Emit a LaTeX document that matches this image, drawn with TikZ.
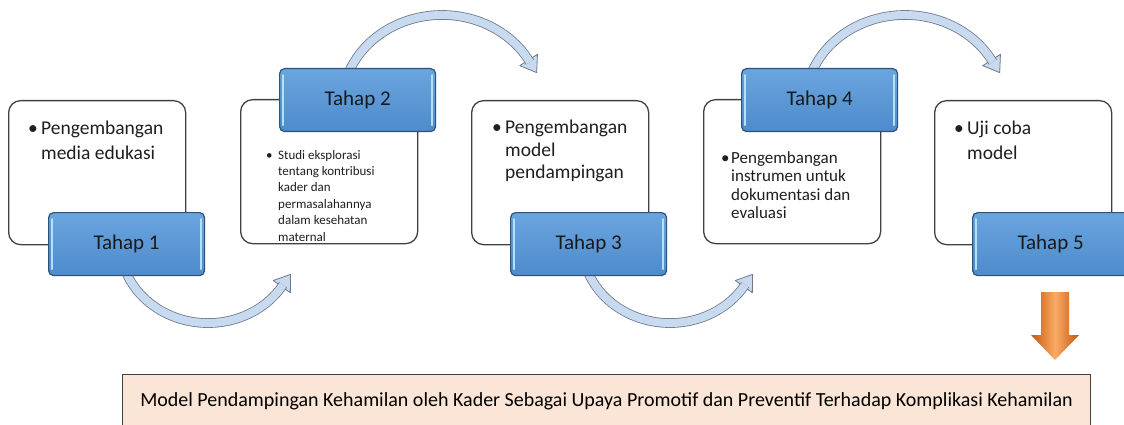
\documentclass[tikz,border=0pt]{standalone}
\usepackage{fontspec}
\setmainfont{Carlito}
\usetikzlibrary{calc}
\definecolor{garis}{RGB}{64,64,64}
\definecolor{birut}{RGB}{106,165,222}
\definecolor{birub}{RGB}{78,139,204}
\definecolor{birug}{RGB}{47,82,122}
\definecolor{kilau}{RGB}{178,226,250}
\definecolor{pitai}{RGB}{200,218,240}
\definecolor{pitag}{RGB}{110,120,135}
\definecolor{jingga}{RGB}{196,88,16}
\definecolor{jinggam}{RGB}{250,170,100}
\definecolor{krem}{RGB}{251,229,214}
\newcommand{\poin}[2]{\begin{tabular}{@{}p{#1}@{}l@{}}#2\end{tabular}}
\tikzset{
  kartu/.style={draw=garis, line width=1.3pt, rounded corners=12pt, fill=white,
    minimum width=177pt, minimum height=144pt, anchor=north west},
  tahap/.style={draw=birug, line width=1.2pt, rounded corners=5pt,
    top color=birut, bottom color=birub, minimum width=156pt, minimum height=63pt,
    anchor=north west, font=\fontsize{21}{25}\selectfont, text=black!90},
  isi/.style={anchor=north west, inner sep=0pt, text=black!88},
  kilat/.style={kilau, line width=1.6pt, line cap=round},
  pita/.style={draw=pitag, line width=0.8pt, double=pitai, double distance=8pt},
  kepala/.style={draw=pitag, line width=0.8pt, fill=pitai, line join=round},
  hasil/.style={draw=garis, line width=1pt, fill=krem, anchor=north west,
    minimum width=968pt, minimum height=54pt, font=\fontsize{20}{24}\selectfont}
}
\begin{document}
\begin{tikzpicture}[x=1pt,y=-1pt]
  \useasboundingbox (0,0) rectangle (1124,425);
  \clip (0,0) rectangle (1124,425);
  % kartu
  \node[kartu] (c1) at (8,100) {};
  \node[kartu] (c2) at (240,99) {};
  \node[kartu] (c3) at (471,100) {};
  \node[kartu] (c4) at (703,99) {};
  \node[kartu] (c5) at (934,100) {};
  % panah bawah
  \foreach \dx/\n in {0/1, 462/3} {
    \coordinate (b\n) at (\dx+125.3,270.4);
    \coordinate (e\n) at (\dx+281.8,286.6);
    \filldraw[kepala] ($(e\n)+(35.5:10.5)$) -- ($(e\n)+(-54.5:15)$) -- ($(e\n)+(-144.5:10.5)$) -- cycle;
    \draw[pita] (b\n) arc[start angle=160, end angle=31.5, x radius=88, y radius=80];
  }
  % panah atas
  \foreach \dx/\n in {0/2, 463/4} {
    \coordinate (b\n) at (\dx+348,74.2);
    \coordinate (e\n) at (\dx+528.6,60);
    \filldraw[kepala] ($(e\n)+(147.3:10.5)$) -- ($(e\n)+(57.3:15)$) -- ($(e\n)+(-32.7:10.5)$) -- cycle;
    \draw[pita] (b\n) arc[start angle=200, end angle=331.5, x radius=100, y radius=90];
  }
  % tahap
  \node[tahap] (s1) at (48,212) {Tahap 1};
  \node[tahap] (s2) at (279,68) {Tahap 2};
  \node[tahap] (s3) at (510,212) {Tahap 3};
  \node[tahap] (s4) at (741,68) {Tahap 4};
  \node[tahap] (s5) at (972,212) {Tahap 5};
  \foreach \s in {s1,s2,s3,s4,s5} {
    \draw[kilat] ([xshift=4pt,yshift=-7pt]\s.north west) -- ([xshift=4pt,yshift=7pt]\s.south west);
    \draw[kilat] ([xshift=-4pt,yshift=-7pt]\s.north east) -- ([xshift=-4pt,yshift=7pt]\s.south east);
  }
  % isi kartu
  \node[isi, font=\fontsize{19.5}{25}\selectfont] (t1) at (28,116.5)
    {\poin{13pt}{\textbullet & Pengembangan\\ & media edukasi}};
  \node[isi, font=\fontsize{13}{16.4}\selectfont] (t2) at (266,147.5)
    {\poin{12pt}{\textbullet & Studi eksplorasi\\ & tentang kontribusi\\ & kader dan\\ & permasalahannya\\ & dalam kesehatan\\ & maternal}};
  \node[isi, font=\fontsize{19.5}{22.5}\selectfont] (t3) at (492,118)
    {\poin{13pt}{\textbullet & Pengembangan\\ & model\\ & pendampingan}};
  \node[isi, font=\fontsize{17}{18.5}\selectfont] (t4) at (721,150)
    {\poin{10pt}{\textbullet & Pengembangan\\ & instrumen untuk\\ & dokumentasi dan\\ & evaluasi}};
  \node[isi, font=\fontsize{19.5}{25}\selectfont] (t5) at (954,116.5)
    {\poin{13pt}{\textbullet & Uji coba\\ & model}};
  % panah jingga ke hasil
  \shade[left color=jingga, right color=jingga, middle color=jinggam]
    (1041,292) -- (1069,292) -- (1069,335) -- (1079,335) -- (1055,360)
    -- (1031,335) -- (1041,335) -- cycle;
  \node[hasil] (h) at (122,374) {Model Pendampingan Kehamilan oleh Kader Sebagai Upaya Promotif dan Preventif Terhadap Komplikasi Kehamilan};
\end{tikzpicture}
\end{document}
